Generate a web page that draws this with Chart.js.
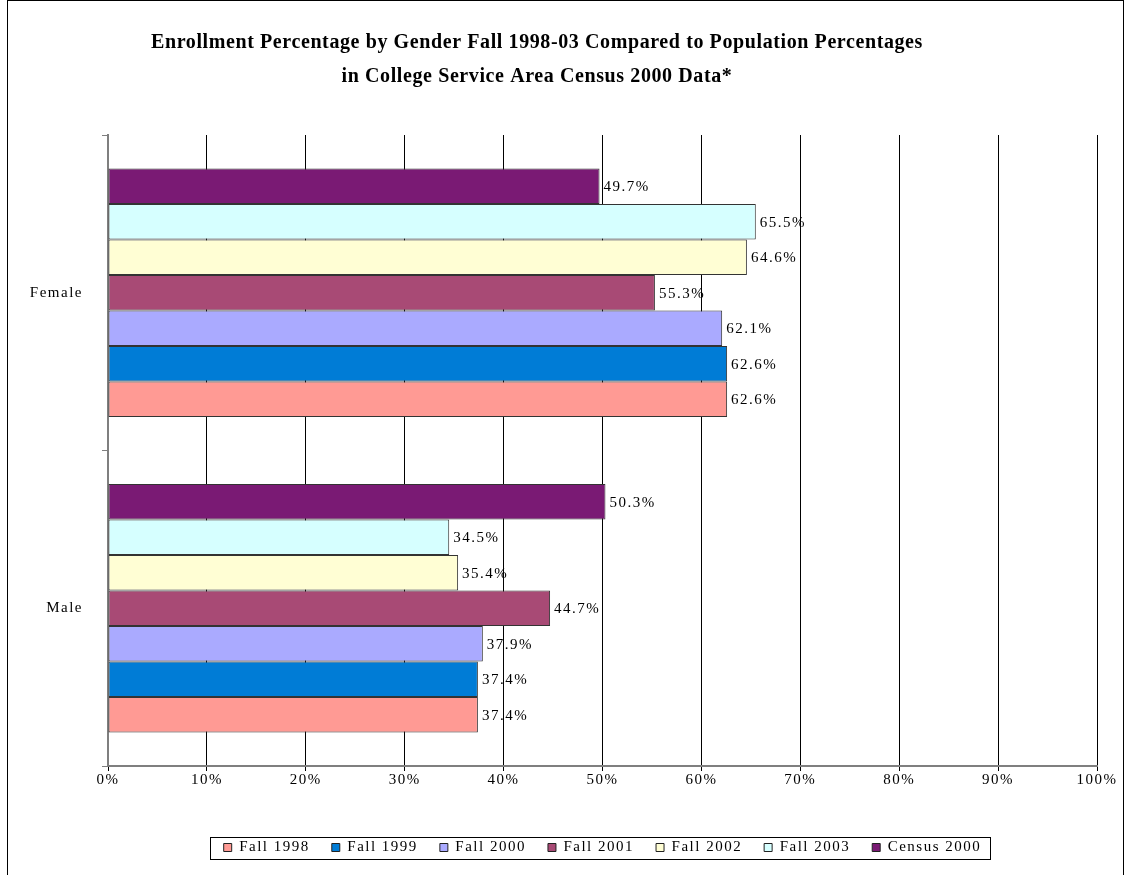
<!DOCTYPE html>
<html>
<head>
<meta charset="utf-8">
<script src="https://cdn.jsdelivr.net/npm/chart.js@4.4.1/dist/chart.umd.min.js"></script>
<style>
  html, body { margin: 0; padding: 0; background: #fff; }
  #wrap { position: relative; width: 1127px; height: 875px; overflow: hidden; }
  #frame { position: absolute; left: 7px; top: 0; width: 1117px; height: 900px; border: 1px solid #000; box-sizing: border-box; }
  canvas { position: absolute; left: 0; top: 0; }
</style>
</head>
<body>
<div id="wrap">
  <div id="frame"></div>
  <canvas id="chart" width="1127" height="875"></canvas>
</div>
<script>
// enrollment by gender vs census population share

const titleLines = [
  "Enrollment Percentage by Gender Fall 1998-03 Compared to Population Percentages",
  "in College Service Area Census 2000 Data*"
];

const genders = ["Female", "Male"];

const seriesNames = ["Fall 1998", "Fall 1999", "Fall 2000", "Fall 2001", "Fall 2002", "Fall 2003", "Census 2000"];
const seriesColors = ["#FF9A94", "#007CD6", "#AAAAFF", "#A84A75", "#FFFED4", "#D6FFFF", "#7A1A74"];

const fall1998   = [62.6, 37.4];
const fall1999   = [62.6, 37.4];
const fall2000   = [62.1, 37.9];
const fall2001   = [55.3, 44.7];
const fall2002   = [64.6, 35.4];
const fall2003   = [65.5, 34.5];
const census2000 = [49.7, 50.3];

const seriesValues = [fall1998, fall1999, fall2000, fall2001, fall2002, fall2003, census2000];

const xTicks = [0, 10, 20, 30, 40, 50, 60, 70, 80, 90, 100];

const serif = "'Liberation Serif', 'DejaVu Serif', serif";
const spacing = "1.5px";

// Excel stacks the first series at the bottom of each group, so feed them in reverse
const datasets = seriesNames.map((name, i) => ({
  label: name,
  data: seriesValues[i],
  backgroundColor: seriesColors[i],
  borderColor: "#333",
  borderWidth: 1,
  borderSkipped: false,
  barPercentage: 1,
  categoryPercentage: 0.787
})).reverse();

const spacingPlugin = {
  id: "spacing",
  beforeLayout(chart) { chart.ctx.letterSpacing = spacing; },
  beforeDraw(chart)   { chart.ctx.letterSpacing = spacing; }
};

const valueLabels = {
  id: "valueLabels",
  afterDatasetsDraw(chart) {
    const ctx = chart.ctx;
    ctx.save();
    ctx.letterSpacing = spacing;
    ctx.font = "15px " + serif;
    ctx.fillStyle = "#000";
    ctx.textAlign = "left";
    ctx.textBaseline = "middle";
    chart.data.datasets.forEach((ds, di) => {
      chart.getDatasetMeta(di).data.forEach((bar, j) => {
        ctx.fillText(ds.data[j].toFixed(1) + "%", bar.x + 4, bar.y + 1);
      });
    });
    ctx.restore();
  }
};

const titleAndFrame = {
  id: "titleAndFrame",
  afterDraw(chart) {
    const ctx = chart.ctx;
    ctx.save();
    ctx.letterSpacing = "0.6px";
    ctx.font = "bold 20px " + serif;
    ctx.fillStyle = "#000";
    ctx.textAlign = "center";
    ctx.textBaseline = "middle";
    titleLines.forEach((t, i) => ctx.fillText(t, 537, 43 + i * 34));

    // box round the legend, as in the spreadsheet
    const boxes = chart.legend.legendHitBoxes;
    if (boxes && boxes.length) {
      const l = Math.min(...boxes.map(b => b.left)) - 14;
      const r = Math.max(...boxes.map(b => b.left + b.width)) + 8;
      const t = Math.min(...boxes.map(b => b.top)) - 3;
      const bt = Math.max(...boxes.map(b => b.top + b.height)) + 4;
      ctx.strokeStyle = "#000";
      ctx.lineWidth = 1;
      ctx.strokeRect(Math.round(l) + 0.5, Math.round(t) + 0.5, Math.round(r - l), Math.round(bt - t));
    }
    ctx.restore();
  }
};

new Chart(document.getElementById("chart"), {
  type: "bar",
  data: { labels: genders, datasets },
  plugins: [spacingPlugin, valueLabels, titleAndFrame],
  options: {
    indexAxis: "y",
    responsive: false,
    animation: false,
    devicePixelRatio: 1,
    layout: { padding: { left: 8, right: 30, top: 135, bottom: 10 } },
    plugins: {
      title: { display: false },
      tooltip: { enabled: false },
      legend: {
        position: "bottom",
        fullSize: false,
        reverse: true,
        labels: {
          color: "#000",
          font: { family: serif, size: 15 },
          boxWidth: 8,
          boxHeight: 8,
          padding: 22,
          generateLabels(chart) {
            return chart.data.datasets.map((ds, i) => ({
              text: ds.label,
              fillStyle: ds.backgroundColor,
              strokeStyle: "#222",
              lineWidth: 1,
              hidden: false,
              datasetIndex: i,
              fontColor: "#000"
            }));
          }
        }
      }
    },
    scales: {
      x: {
        min: 0,
        max: 100,
        afterBuildTicks(scale) { scale.ticks = xTicks.map(v => ({ value: v })); },
        afterFit(scale) { scale.height = 52; },
        ticks: {
          color: "#000",
          font: { family: serif, size: 15 },
          padding: 0,
          callback: v => v + "%"
        },
        grid: { color: "#000", lineWidth: 1, tickColor: "#000", tickLength: 5 },
        border: { color: "#7f7f7f", width: 2 }
      },
      y: {
        afterFit(scale) { scale.width = 100; },
        ticks: {
          color: "#000",
          font: { family: serif, size: 15 },
          padding: 19
        },
        grid: { drawOnChartArea: false, offset: true, tickLength: 6, tickColor: "#7f7f7f" },
        border: { color: "#7f7f7f", width: 2 }
      }
    }
  }
});
</script>
</body>
</html>
